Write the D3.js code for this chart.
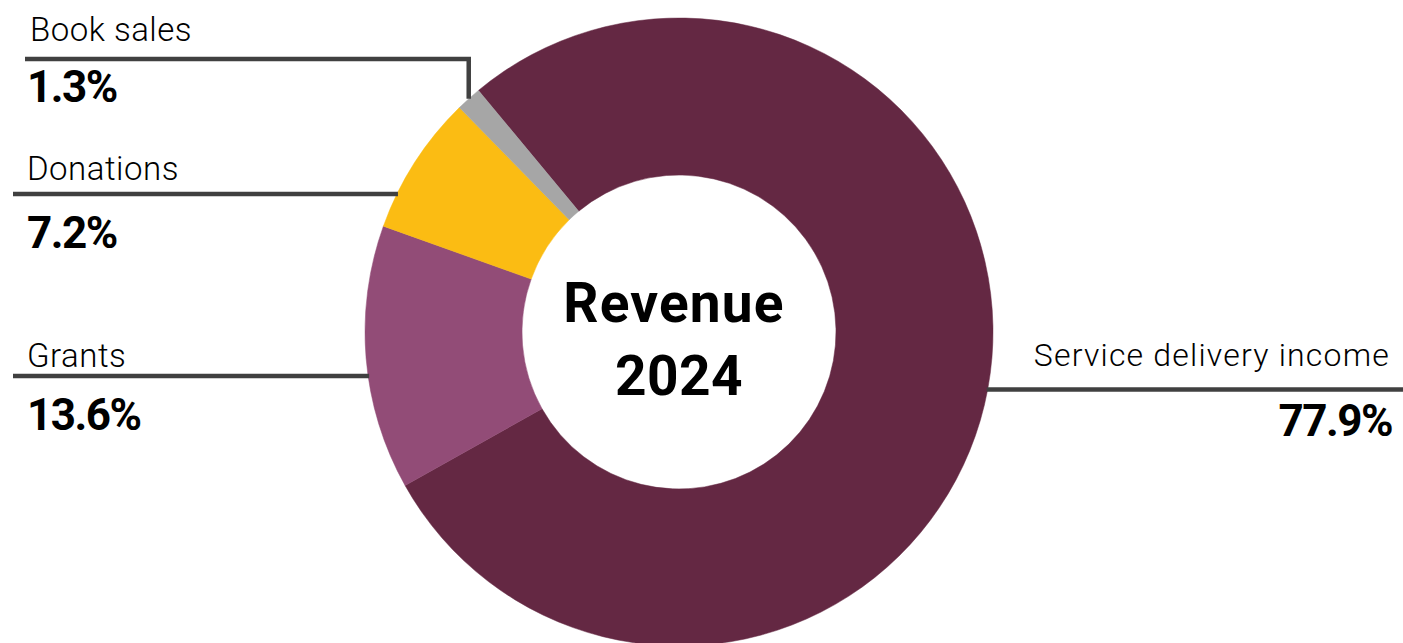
<!DOCTYPE html>
<html>
<head>
<meta charset="utf-8">
<script src="https://cdn.jsdelivr.net/npm/d3@7"></script>
<style>
  html, body { margin: 0; padding: 0; background: #fff; }
  svg { display: block; }
</style>
</head>
<body>
<div id="chart"></div>
<script>
// data, clockwise from the top-left start of the largest slice
const categories = ['Service delivery income', 'Grants', 'Donations', 'Book sales']
const shares = [77.9, 13.6, 7.2, 1.3]
const colors = ['#642843', '#924c77', '#fbbc13', '#a6a6a6']
const centerTitle = ['Revenue', '2024']

const width = 1403
const height = 643
const cx = 679
const cy = 332
const outerR = 314
const innerR = 157
const start = -39.7 * Math.PI / 180

// where each label sits (line y, text baselines, side)
const layout = {
  'Book sales':              { side: 'left',  lineY: 59,    lineX: 25,   nameX: 30,   nameY: 41,  pctX: 27,   pctY: 102, elbow: true },
  'Donations':               { side: 'left',  lineY: 194,   lineX: 13,   nameX: 27,   nameY: 180, pctX: 27,   pctY: 248 },
  'Grants':                  { side: 'left',  lineY: 376,   lineX: 13,   nameX: 27,   nameY: 367, pctX: 27,   pctY: 430 },
  'Service delivery income': { side: 'right', lineY: 389.5, lineX: 1403, nameX: 1390, nameY: 366, pctX: 1392, pctY: 436 }
}

const data = categories.map((c, i) => ({ name: c, value: shares[i], color: colors[i] }))

const svg = d3.select('#chart').append('svg')
  .attr('width', width)
  .attr('height', height)

const g = svg.append('g')
  .attr('transform', `translate(${cx},${cy})`)

const pie = d3.pie()
  .sort(null)
  .value(d => d.value)
  .startAngle(start)
  .endAngle(start + 2 * Math.PI)

const arc = d3.arc()
  .innerRadius(innerR)
  .outerRadius(outerR)

const arcs = pie(data)

g.selectAll('path.slice')
  .data(arcs)
  .enter()
  .append('path')
  .attr('class', 'slice')
  .attr('d', arc)
  .attr('fill', d => d.data.color)
  .attr('stroke', d => d.data.color)
  .attr('stroke-width', 0.5)

// leader lines
const lines = svg.append('g')
  .attr('fill', 'none')
  .attr('stroke', '#404040')
  .attr('stroke-width', 4.5)
  .attr('stroke-linejoin', 'miter')

arcs.forEach(a => {
  const L = layout[a.data.name]
  let pts
  if (L.elbow) {
    const mid = (a.startAngle + a.endAngle) / 2
    const ex = cx + outerR * Math.sin(mid)
    const ey = cy - outerR * Math.cos(mid)
    pts = [[L.lineX, L.lineY], [ex, L.lineY], [ex, ey]]
  } else {
    const dy = L.lineY - cy
    const dx = Math.sqrt(outerR * outerR - dy * dy)
    const ex = L.side === 'left' ? cx - dx + 1 : cx + dx - 1
    pts = [[L.lineX, L.lineY], [ex, L.lineY]]
  }
  lines.append('path').attr('d', d3.line()(pts))
})

// labels
const labels = svg.append('g')
  .attr('font-family', 'Roboto, "Open Sans", sans-serif')
  .attr('fill', '#000')

arcs.forEach(a => {
  const L = layout[a.data.name]
  const anchor = L.side === 'left' ? 'start' : 'end'
  labels.append('text')
    .attr('x', L.nameX)
    .attr('y', L.nameY)
    .attr('text-anchor', anchor)
    .attr('font-size', L.side === 'left' ? 33 : 32)
    .attr('font-weight', 300)
    .attr('letter-spacing', L.side === 'left' ? 0.5 : 1.2)
    .text(a.data.name)
  labels.append('text')
    .attr('x', L.pctX)
    .attr('y', L.pctY)
    .attr('text-anchor', anchor)
    .attr('font-size', 44)
    .attr('font-weight', 700)
    .attr('letter-spacing', -1.5)
    .text(d3.format('.1f')(a.data.value) + '%')
})

// centre title
svg.append('g')
  .attr('font-family', 'Roboto, "Open Sans", sans-serif')
  .attr('font-weight', 700)
  .attr('font-size', 55)
  .attr('text-anchor', 'middle')
  .selectAll('text')
  .data(centerTitle)
  .enter()
  .append('text')
  .attr('x', (d, i) => i === 0 ? cx - 5 : cx)
  .attr('y', (d, i) => 322 + i * 73)
  .attr('letter-spacing', (d, i) => i === 0 ? 1.2 : 0.5)
  .text(d => d)
</script>
</body>
</html>
